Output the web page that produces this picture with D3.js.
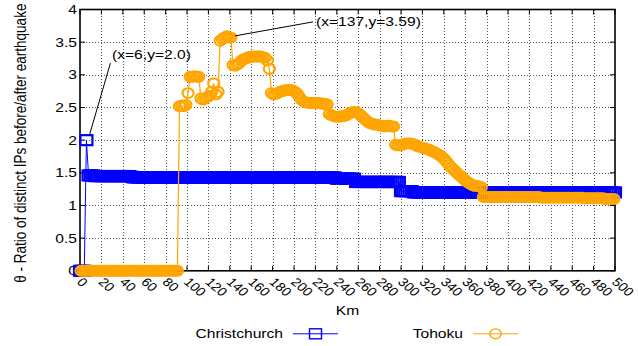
<!DOCTYPE html>
<html>
<head>
<meta charset="utf-8">
<script src="https://cdn.jsdelivr.net/npm/d3@7"></script>
<style>
  body { margin: 0; background: #fff; }
  text { font-family: "Liberation Sans", Arial, sans-serif; fill: #000; }
</style>
</head>
<body>
<svg id="chart" width="638" height="346"></svg>
<script>
// ---- data -------------------------------------------------------------
const xTickValues = [0, 20, 40, 60, 80, 100, 120, 140, 160, 180, 200, 220, 240,
  260, 280, 300, 320, 340, 360, 380, 400, 420, 440, 460, 480, 500];
const yTickValues = [0, 0.5, 1, 1.5, 2, 2.5, 3, 3.5, 4];

// Christchurch: ratio sampled every 2 km, 0 .. 500 km
const christchurchKm = d3.range(0, 501, 2);
const christchurchRatio = [
  0, 0, 0, 2.0,
  1.46, 1.46, 1.46, 1.45, 1.45, 1.45, 1.45, 1.45, 1.45, 1.45,
  1.45, 1.45, 1.45, 1.45, 1.45, 1.45, 1.45, 1.45, 1.45, 1.45, 1.44,
  1.43, 1.43, 1.43, 1.43, 1.43, 1.43, 1.43, 1.43, 1.43, 1.43,
  1.43, 1.43, 1.43, 1.43, 1.43, 1.43, 1.43, 1.43, 1.43, 1.43,
  1.43, 1.43, 1.43, 1.43, 1.43, 1.43, 1.43, 1.43, 1.43, 1.43,
  1.43, 1.43, 1.43, 1.43, 1.43, 1.43, 1.43, 1.43, 1.43, 1.43,
  1.43, 1.43, 1.43, 1.43, 1.43, 1.43, 1.43, 1.43, 1.43, 1.43,
  1.43, 1.43, 1.43, 1.43, 1.43, 1.43, 1.43, 1.43, 1.43, 1.43,
  1.43, 1.43, 1.43, 1.43, 1.43, 1.43, 1.43, 1.43, 1.43, 1.43,
  1.43, 1.43, 1.43, 1.43, 1.43, 1.43, 1.43, 1.43, 1.43, 1.43,
  1.43, 1.43, 1.43, 1.43, 1.43, 1.43, 1.43, 1.43, 1.43, 1.43,
  1.43, 1.43, 1.43, 1.43, 1.43,
  1.41, 1.41, 1.41, 1.41, 1.41, 1.41, 1.41, 1.41, 1.41,
  1.36, 1.36, 1.36, 1.36, 1.36, 1.36, 1.36, 1.36, 1.36, 1.36,
  1.36, 1.36, 1.36, 1.36, 1.36, 1.36, 1.36, 1.36, 1.36, 1.36, 1.36,
  1.22, 1.22, 1.22, 1.22, 1.22, 1.22,
  1.20, 1.20, 1.20, 1.20, 1.20, 1.20, 1.20, 1.20, 1.20, 1.20,
  1.20, 1.20, 1.20, 1.20, 1.20, 1.20, 1.20, 1.20, 1.20, 1.20,
  1.20, 1.20, 1.20, 1.20, 1.20, 1.20, 1.20, 1.20, 1.20, 1.20,
  1.20, 1.20, 1.20, 1.20, 1.20, 1.20, 1.20, 1.20, 1.20, 1.20,
  1.20, 1.20, 1.20, 1.20, 1.20, 1.20, 1.20, 1.20, 1.20, 1.20,
  1.20, 1.20, 1.20, 1.20, 1.20, 1.20, 1.20, 1.20, 1.20, 1.20,
  1.20, 1.20, 1.20, 1.20, 1.20, 1.20, 1.20, 1.20, 1.20, 1.20,
  1.20, 1.20, 1.20, 1.20, 1.20, 1.20, 1.20, 1.20, 1.20, 1.20,
  1.20, 1.20, 1.20, 1.20, 1.20, 1.20, 1.20, 1.20, 1.20, 1.20,
  1.20, 1.20, 1.20, 1.20, 1.20
];

// Tohoku: ratio sampled every 2 km, 1 .. 499 km
const tohokuKm = d3.range(1, 500, 2);
const tohokuRatio = [
  0, 0, 0, 0, 0, 0, 0, 0, 0, 0,
  0, 0, 0, 0, 0, 0, 0, 0, 0, 0,
  0, 0, 0, 0, 0, 0, 0, 0, 0, 0,
  0, 0, 0, 0, 0, 0, 0, 0, 0, 0,
  0, 0, 0, 0, 0, 0,
  2.52, 2.53, 2.52, 2.54, 2.72,
  2.97, 2.97, 2.98, 2.97, 2.97,
  2.64, 2.62, 2.64, 2.66, 2.68, 2.74, 2.87, 2.70, 2.74,
  3.52, 3.55, 3.57, 3.59, 3.58, 3.57,
  3.15, 3.14, 3.16, 3.18, 3.22, 3.24, 3.25, 3.27, 3.27, 3.28,
  3.28, 3.28, 3.28, 3.28, 3.27, 3.26, 3.22, 3.09,
  2.72, 2.70, 2.71, 2.72, 2.74, 2.75, 2.76, 2.77, 2.77, 2.77,
  2.76, 2.74, 2.71,
  2.66, 2.62, 2.59, 2.58, 2.57, 2.57, 2.57, 2.57, 2.57, 2.57,
  2.56, 2.56, 2.55, 2.55,
  2.40, 2.38, 2.37, 2.36, 2.36, 2.36, 2.37, 2.37, 2.38, 2.40,
  2.42, 2.43, 2.43, 2.42, 2.40, 2.37, 2.34, 2.31, 2.28, 2.26,
  2.25, 2.24, 2.24, 2.23, 2.22, 2.22, 2.21, 2.22, 2.22, 2.21, 2.21,
  1.93, 1.92, 1.92, 1.93, 1.94, 1.95, 1.95, 1.95, 1.94, 1.93,
  1.91, 1.90, 1.89, 1.88, 1.87, 1.86, 1.85, 1.83, 1.82, 1.80,
  1.78, 1.76, 1.73, 1.70, 1.66, 1.62, 1.58, 1.55, 1.52, 1.49,
  1.46, 1.43, 1.40, 1.37, 1.35, 1.33, 1.31, 1.30, 1.30, 1.29, 1.28,
  1.13, 1.13, 1.13, 1.13, 1.13, 1.13, 1.13, 1.13, 1.13, 1.13,
  1.13, 1.13, 1.13, 1.13, 1.13, 1.13, 1.13, 1.13, 1.13, 1.13,
  1.13, 1.13, 1.13, 1.13, 1.13, 1.13, 1.13,
  1.12, 1.12, 1.12, 1.12, 1.12, 1.12, 1.12, 1.12, 1.12, 1.12,
  1.12, 1.12, 1.12, 1.12, 1.12, 1.12, 1.12, 1.12, 1.12, 1.12,
  1.11, 1.11, 1.11, 1.11, 1.11, 1.11, 1.11, 1.11, 1.11, 1.11,
  1.10, 1.10, 1.10, 1.10, 1.10
];

const seriesNames = ["Christchurch", "Tohoku"];
const seriesColors = ["#0000ff", "#ffa500"];

// annotated points: [km, ratio]
const christchurchPeak = [6, 2.0];
const tohokuPeak = [137, 3.59];

// ---- layout -----------------------------------------------------------
const svg = d3.select("#chart");
const margin = { top: 9.5, right: 23, bottom: 75.2, left: 80 };
const W = 638, H = 346;
const x = d3.scaleLinear().domain([0, 500]).range([margin.left, W - margin.right]);
const y = d3.scaleLinear().domain([0, 4]).range([H - margin.bottom, margin.top]);
const SX = 1.25;           // horizontal stretch of the lettering
const FS = 12.5;           // base font size

const x0 = x.range()[0], x1 = x.range()[1];
const y0 = y.range()[0], y1 = y.range()[1];

// grid
const grid = svg.append("g")
  .attr("stroke", "#555").attr("stroke-width", 1)
  .attr("stroke-dasharray", "1,2").attr("shape-rendering", "crispEdges");
grid.selectAll(".gx").data(xTickValues.slice(1, -1)).join("line")
  .attr("x1", d => Math.round(x(d)) + 0.5).attr("x2", d => Math.round(x(d)) + 0.5)
  .attr("y1", y1).attr("y2", y0);
grid.selectAll(".gy").data(yTickValues.slice(1, -1)).join("line")
  .attr("y1", d => Math.round(y(d)) + 0.5).attr("y2", d => Math.round(y(d)) + 0.5)
  .attr("x1", x0).attr("x2", x1);

// inward mirrored ticks
const ticks = svg.append("g").attr("stroke", "#000").attr("stroke-width", 1);
xTickValues.forEach(v => {
  ticks.append("line").attr("x1", x(v)).attr("x2", x(v)).attr("y1", y0).attr("y2", y0 - 5);
  ticks.append("line").attr("x1", x(v)).attr("x2", x(v)).attr("y1", y1).attr("y2", y1 + 5);
});
yTickValues.forEach(v => {
  ticks.append("line").attr("y1", y(v)).attr("y2", y(v)).attr("x1", x0).attr("x2", x0 + 5);
  ticks.append("line").attr("y1", y(v)).attr("y2", y(v)).attr("x1", x1).attr("x2", x1 - 5);
});

// frame
svg.append("rect")
  .attr("x", x0).attr("y", y1).attr("width", x1 - x0).attr("height", y0 - y1)
  .attr("fill", "none").attr("stroke", "#000").attr("stroke-width", 1.6);

// tick labels
svg.append("g").selectAll("text").data(yTickValues).join("text")
  .attr("transform", d => `translate(${x0 - 3},${y(d) + 4.5}) scale(${SX},1)`)
  .attr("text-anchor", "end").attr("font-size", FS)
  .text(d => d);
svg.append("g").selectAll("text").data(xTickValues).join("text")
  .attr("transform", d => `translate(${x(d) - 4},${y0 + 12}) scale(1.2,1) rotate(45)`)
  .attr("text-anchor", "start").attr("font-size", 12)
  .text(d => d);

// axis titles
svg.append("text")
  .attr("transform", `translate(${(x0 + x1) / 2},${y0 + 44.5}) scale(${SX},1)`)
  .attr("text-anchor", "middle").attr("font-size", FS)
  .text("Km");
svg.append("text")
  .attr("transform", `translate(26,${(y0 + y1) / 2 + 3}) scale(1.2,1) rotate(-90)`)
  .attr("text-anchor", "middle").attr("font-size", 13.5)
  .text("θ - Ratio of distinct IPs before/after earthquake");

// ---- series -----------------------------------------------------------
const line = d3.line().x(d => x(d[0])).y(d => y(d[1]));
const chPts = christchurchKm.map((k, i) => [k, christchurchRatio[i]]);
const thPts = tohokuKm.map((k, i) => [k, tohokuRatio[i]]);

function squareMarker(sel, color) {
  sel.attr("x", -6).attr("y", -5).attr("width", 12).attr("height", 10)
    .attr("fill", "none").attr("stroke", color).attr("stroke-width", 2.2);
}
function circleMarker(sel, color) {
  sel.attr("cx", 0).attr("cy", 0).attr("rx", 5.6).attr("ry", 4.9)
    .attr("fill", "none").attr("stroke", color).attr("stroke-width", 2.1);
}

const gCh = svg.append("g");
gCh.append("path").datum(chPts).attr("d", line)
  .attr("fill", "none").attr("stroke", seriesColors[0]).attr("stroke-width", 1);
gCh.selectAll("rect").data(chPts).join("rect")
  .attr("transform", d => `translate(${x(d[0])},${y(d[1])})`)
  .call(squareMarker, seriesColors[0]);

const gTh = svg.append("g");
gTh.append("path").datum(thPts).attr("d", line)
  .attr("fill", "none").attr("stroke", seriesColors[1]).attr("stroke-width", 1.2);
gTh.selectAll("ellipse").data(thPts).join("ellipse")
  .attr("transform", d => `translate(${x(d[0])},${y(d[1])})`)
  .call(circleMarker, seriesColors[1]);

// ---- annotations --------------------------------------------------------
function annotate(pt, lineFrom, lineTo, textAt) {
  const px = x(pt[0]), py = y(pt[1]);
  svg.append("line")
    .attr("x1", px + lineFrom[0]).attr("y1", py + lineFrom[1])
    .attr("x2", px + lineTo[0]).attr("y2", py + lineTo[1])
    .attr("stroke", "#000").attr("stroke-width", 1);
  svg.append("text")
    .attr("transform", `translate(${px + textAt[0]},${py + textAt[1]}) scale(${SX},1)`)
    .attr("font-size", FS)
    .text(`(x=${pt[0]},y=${pt[1].toFixed(pt[1] === 2 ? 1 : 2)})`);
}
annotate(christchurchPeak, [3, -5], [24, -77], [25.6, -80.7]);
annotate(tohokuPeak, [8.4, -0.4], [86.4, -14.4], [89.4, -10.7]);

// ---- legend -------------------------------------------------------------
const legendY = y0 + 63;
const legendItems = [
  { name: seriesNames[0], color: seriesColors[0], textEnd: 283, lineStart: 293, marker: squareMarker, shape: "rect" },
  { name: seriesNames[1], color: seriesColors[1], textEnd: 463, lineStart: 473, marker: circleMarker, shape: "ellipse" }
];
legendItems.forEach(it => {
  const g = svg.append("g");
  g.append("text")
    .attr("transform", `translate(${it.textEnd},${legendY + 4.5}) scale(${SX},1)`)
    .attr("text-anchor", "end").attr("font-size", FS).text(it.name);
  g.append("line")
    .attr("x1", it.lineStart).attr("x2", it.lineStart + 45)
    .attr("y1", legendY).attr("y2", legendY)
    .attr("stroke", it.color).attr("stroke-width", 1);
  g.append(it.shape)
    .attr("transform", `translate(${it.lineStart + 22.5},${legendY})`)
    .call(it.marker, it.color)
    .attr("stroke-width", 1.4);
});
</script>
</body>
</html>
